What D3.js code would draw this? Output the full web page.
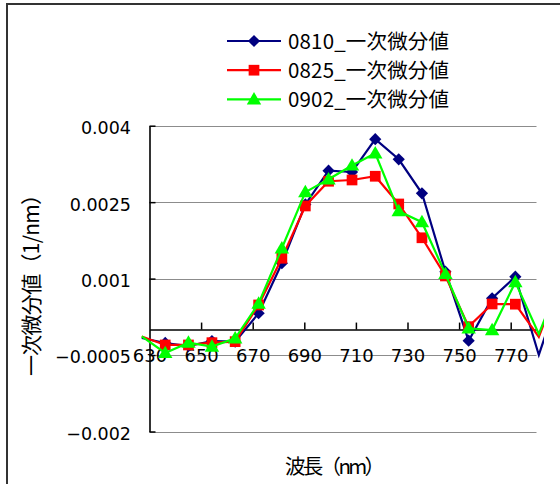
<!DOCTYPE html>
<html><head><meta charset="utf-8">
<script src="https://cdn.jsdelivr.net/npm/d3@7/dist/d3.min.js"></script>
<style>
html,body{margin:0;padding:0;background:#fff;}
svg{display:block;font-family:"Noto Sans CJK JP","Noto Sans",sans-serif;}
</style></head>
<body>
<svg id="chart" width="560" height="484"></svg>
<script>
const wavelengths = [627.0, 636.1, 645.1, 654.2, 663.2, 672.3, 681.3, 690.4, 699.4, 708.5, 717.5, 726.6, 735.6, 744.7, 753.7, 762.8, 771.8, 780.9, 789.9];
const s0810 = [-0.000165, -0.000263, -0.000322, -0.000224, -0.000237, 0.000320, 0.001301, 0.002455, 0.003118, 0.003092, 0.003736, 0.003341, 0.002674, 0.001136, -0.000218, 0.000614, 0.001038, -0.000498, 0.000855];
const s0825 = [-0.000135, -0.000302, -0.000302, -0.000257, -0.000237, 0.000483, 0.001399, 0.002425, 0.002910, 0.002935, 0.003008, 0.002464, 0.001801, 0.001052, 0.000057, 0.000502, 0.000498, -0.000145, 0.001052];
const s0902 = [-0.000135, -0.000459, -0.000257, -0.000335, -0.000171, 0.000512, 0.001595, 0.002696, 0.002949, 0.003220, 0.003459, 0.002323, 0.002107, 0.001091, 0.000026, -0.000008, 0.000930, -0.000086, 0.001052];
const seriesNames = ["0810_一次微分値", "0825_一次微分値", "0902_一次微分値"];
const seriesColors = ["#000080", "#FF0000", "#00FF00"];
const seriesShapes = ["diamond", "square", "triangle"];
const xTicks = [630, 650, 670, 690, 710, 730, 750, 770];
const yTicks = [0.004, 0.0025, 0.001, -0.0005, -0.002];
const yTickLabels = ["0.004", "0.0025", "0.001", "\u22120.0005", "\u22120.002"];
const xDomain = [630, 780];
const yDomain = [-0.002, 0.004];
const yTitle = "一次微分値（1/nm）";
const xTitle = "波長（nm）";

const numFont = "'DejaVu Sans', 'Noto Sans CJK JP', sans-serif";
const svg = d3.select("#chart");
const x = d3.scaleLinear().domain(xDomain).range([149.5, 536.5]);
const y = d3.scaleLinear().domain(yDomain).range([431.5, 125.7]);

// outer frame
svg.append("rect").attr("x", 7).attr("y", 4).attr("width", 700).attr("height", 700)
  .attr("fill", "none").attr("stroke", "#333").attr("stroke-width", 2);

// gridlines
svg.append("g").selectAll("line").data(yTicks).join("line")
  .attr("x1", x(xDomain[0])).attr("x2", x(xDomain[1]))
  .attr("y1", d => Math.round(y(d)) + 0.5).attr("y2", d => Math.round(y(d)) + 0.5)
  .attr("stroke", "#8c8c8c").attr("stroke-width", 1.2);

// y axis
const yAxis = d3.axisLeft(y).tickValues(yTicks).tickSize(-6).tickSizeOuter(0).tickPadding(18.5)
  .tickFormat((d, i) => yTickLabels[i]);
const gy = svg.append("g").attr("transform", `translate(${x(xDomain[0])},0)`).call(yAxis);
gy.select(".domain").attr("stroke", "#000").attr("stroke-width", 1.6);
gy.selectAll(".tick line").attr("stroke", "#000").attr("stroke-width", 1.5);
gy.selectAll(".tick text").attr("font-size", 17.5).attr("fill", "#000")
  .attr("font-family", numFont).attr("dy", "0.45em");

// x axis at zero
const xAxis = d3.axisBottom(x).tickValues(xTicks).tickSize(-7).tickSizeOuter(0).tickPadding(21)
  .tickFormat(d3.format("d"));
const gx = svg.append("g").attr("transform", `translate(0,${y(0)})`).call(xAxis);
gx.select(".domain").attr("stroke", "#000").attr("stroke-width", 1.6);
gx.selectAll(".tick line").attr("stroke", "#000").attr("stroke-width", 1.5)
  .attr("display", d => d === xDomain[0] ? "none" : null);
gx.selectAll(".tick text").attr("font-size", 18).attr("fill", "#000")
  .attr("font-family", numFont).attr("dy", "0.62em");

// series
svg.append("defs").append("clipPath").attr("id", "clipR")
  .append("rect").attr("x", 0).attr("y", 0).attr("width", 544).attr("height", 484);

const allSeries = [s0810, s0825, s0902];
const symbolFor = {
  diamond: d3.symbol().type(d3.symbolDiamond2).size(95),
  square: d3.symbol().type(d3.symbolSquare).size(115),
  triangle: d3.symbol().type(d3.symbolTriangle).size(90)
};
const line = d3.line().x(d => x(d[0])).y(d => y(d[1]));
const plot = svg.append("g").attr("clip-path", "url(#clipR)");
allSeries.forEach((vals, si) => {
  const pts = wavelengths.map((w, i) => [w, vals[i]]);
  plot.append("path").datum(pts).attr("d", line)
    .attr("fill", "none").attr("stroke", seriesColors[si]).attr("stroke-width", 2.2)
    .attr("stroke-linejoin", "miter");
  plot.append("g").selectAll("path").data(pts.filter(p => p[0] >= xDomain[0] && p[0] <= xDomain[1])).join("path")
    .attr("transform", p => `translate(${x(p[0])},${y(p[1]) + (seriesShapes[si] === "triangle" ? 1 : 0)})`)
    .attr("d", symbolFor[seriesShapes[si]])
    .attr("fill", seriesColors[si]);
});

// legend
const legend = svg.append("g");
seriesNames.forEach((name, i) => {
  const ly = 41 + i * 29.2;
  legend.append("line").attr("x1", 227).attr("x2", 281).attr("y1", ly).attr("y2", ly)
    .attr("stroke", seriesColors[i]).attr("stroke-width", 2.2);
  legend.append("path").attr("transform", `translate(254,${ly + (seriesShapes[i] === "triangle" ? 1 : 0)})`)
    .attr("d", symbolFor[seriesShapes[i]]).attr("fill", seriesColors[i]);
  legend.append("text").attr("x", 288).attr("y", ly).attr("dy", "0.38em")
    .attr("font-size", 20.5).attr("fill", "#000").attr("textLength", 161).attr("lengthAdjust", "spacing")
    .text(name);
});

// axis titles
svg.append("text").attr("transform", "translate(31,280) rotate(-90)")
  .attr("text-anchor", "middle").attr("dy", "0.36em").attr("font-size", 21).attr("fill", "#000")
  .attr("textLength", 192).attr("lengthAdjust", "spacing")
  .text(yTitle);
svg.append("text").attr("x", 335).attr("y", 467).attr("text-anchor", "middle").attr("dy", "0.36em")
  .attr("font-size", 20.5).attr("fill", "#000").attr("textLength", 100).attr("lengthAdjust", "spacing")
  .text(xTitle);
</script>
</body></html>
